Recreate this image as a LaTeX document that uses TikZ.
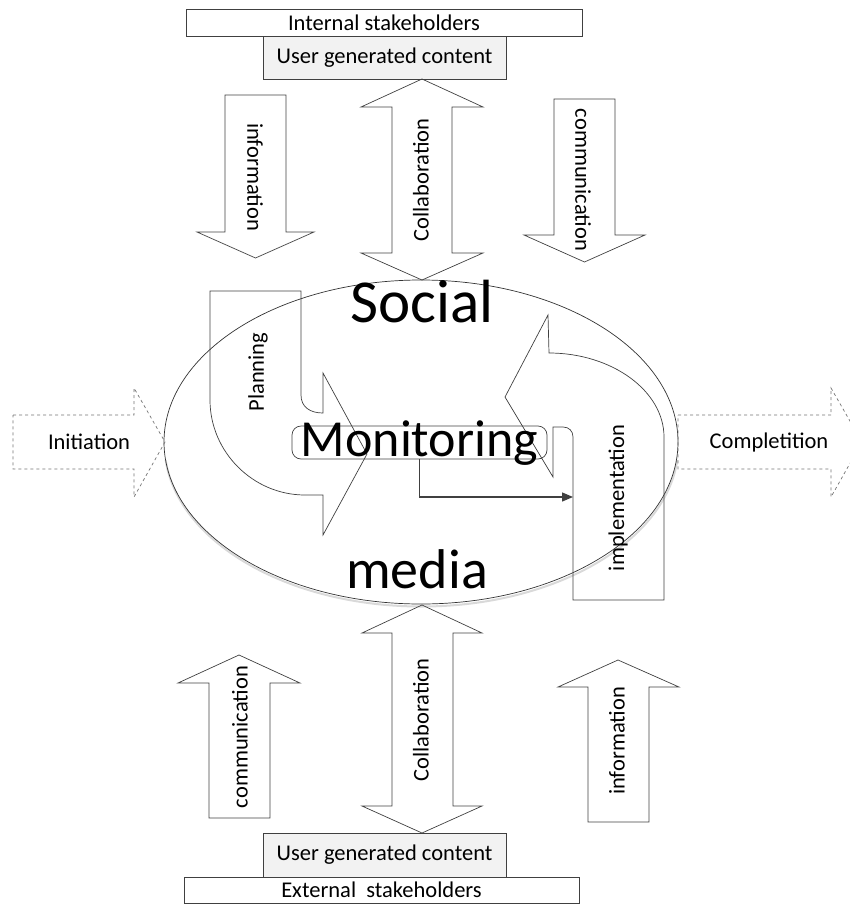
\documentclass[tikz,border=0pt]{standalone}
\usepackage{fontspec}
\setmainfont{Carlito}
\usetikzlibrary{arrows.meta}

\tikzset{
  blockarrow/.style={draw=black!75, line width=0.7pt},
  dasharrow/.style={draw=black!55, dashed, line width=0.7pt},
  lbl/.style={font=\fontsize{22.5}{26}\selectfont, inner sep=0pt},
  bigword/.style={font=\fontsize{52}{60}\selectfont, inner sep=0pt, anchor=base},
  labelbox/.style={draw=black!75, line width=0.7pt, inner sep=0pt, font=\fontsize{22.5}{26}\selectfont},
  conn/.style={draw=black!75, line width=1.3pt, -{Triangle[length=11pt,width=9pt]}}
}

\begin{document}
\begin{tikzpicture}[x=1pt, y=-1pt]
  \useasboundingbox (0,0) rectangle (850,905);
  \clip (0,0) rectangle (850,905);

  % Kaesten oben
  \node[labelbox, fill=white, minimum width=396pt, minimum height=27pt] (internal) at (384,22.5) {Internal stakeholders};
  \node[labelbox, fill=black!5, minimum width=243pt, minimum height=43pt] (ugctop) at (384.5,57.5) {User generated content};

  % Pfeile oben
  \draw[blockarrow] (225,95) -- (286,95) -- (286,232) -- (314,232) -- (255.5,258) -- (197,232) -- (225,232) -- cycle;
  \node[lbl, rotate=-90] (infotop) at (255,177) {information};
  \draw[blockarrow] (422,79) -- (483,107) -- (452,107) -- (452,253) -- (483,253) -- (422,280)
    -- (361,253) -- (392,253) -- (392,107) -- (361,107) -- cycle;
  \node[lbl, rotate=90] (collabtop) at (421,180) {Collaboration};
  \draw[blockarrow] (554,99) -- (615,99) -- (615,235) -- (645,235) -- (584.5,262) -- (524,235) -- (554,235) -- cycle;
  \node[lbl, rotate=-90] (commtop) at (583,180) {communication};

  % Ellipse mit Schatten unten
  \begin{scope}
    \clip (0,460) rectangle (850,700);
    \draw[black!15, line width=2pt] (421.5,444.5) ellipse [x radius=257pt, y radius=162pt];
  \end{scope}
  \draw[black!80, line width=0.7pt] (421,442) ellipse [x radius=257pt, y radius=162pt];

  % Initiation und Completition
  \draw[dasharrow] (13,415) -- (134,415) -- (134,388) -- (165,442) -- (134,497) -- (134,469) -- (13,469) -- cycle;
  \node[lbl] (init) at (89,442) {Initiation};
  \draw[dasharrow] (678,415) -- (831,415) -- (831,388) -- (862,442) -- (831,497) -- (831,469) -- (678,469) -- cycle;
  \node[lbl] (compl) at (769,442) {Completition};

  % Planning
  \draw[blockarrow] (210,291) -- (301,291) -- (301,395) .. controls (301,407) and (310,413) .. (323,413)
    -- (323,373) -- (367,454) -- (323,535) -- (323,495) -- (305,495)
    .. controls (253,495) and (210,452) .. (210,400) -- cycle;
  \node[lbl, rotate=90] (planning) at (258,372) {Planning};

  % implementation
  \draw[blockarrow] (573,600) -- (573,437) .. controls (573,431) and (569,427) .. (563,427) -- (553,427)
    -- (553,477) -- (505,397) -- (548,315) -- (549,353)
    .. controls (612,353) and (664,391) .. (664,437) -- (664,600) -- cycle;
  \node[lbl, rotate=90] (impl) at (618,498) {implementation};

  % Social Monitoring media
  \node[bigword, font=\fontsize{61}{70}\selectfont] (social) at (422,322) {Social};
  \node[draw=black!75, line width=0.7pt, rounded corners=9pt, minimum width=255pt, minimum height=33pt] (monbox) at (419.5,442.5) {};
  \node[bigword] (monitoring) at (419.5,456) {Monitoring};
  \node[bigword, font=\fontsize{56}{64}\selectfont] (media) at (417,588) {media};
  \coordinate (implin) at (573,497);
  \draw[conn] (monbox.south) |- (implin);

  % Pfeile unten
  \draw[blockarrow] (239,655) -- (300,683) -- (270,683) -- (270,818) -- (209,818) -- (209,683) -- (178,683) -- cycle;
  \node[lbl, rotate=90] (commbot) at (240,737) {communication};
  \draw[blockarrow] (422,605) -- (482,633) -- (453,633) -- (453,806) -- (482,806) -- (422,833)
    -- (362,806) -- (392,806) -- (392,633) -- (362,633) -- cycle;
  \node[lbl, rotate=90] (collabbot) at (421,720) {Collaboration};
  \draw[blockarrow] (618,660) -- (679,687) -- (649,687) -- (649,822) -- (588,822) -- (588,687) -- (558,687) -- cycle;
  \node[lbl, rotate=90] (infobot) at (617,741) {information};

  % Kaesten unten
  \node[labelbox, fill=black!5, minimum width=243pt, minimum height=44pt] (ugcbot) at (384.5,855) {User generated content};
  \node[labelbox, fill=white, minimum width=395pt, minimum height=26pt] (external) at (381.5,890) {External~ stakeholders};
\end{tikzpicture}
\end{document}
